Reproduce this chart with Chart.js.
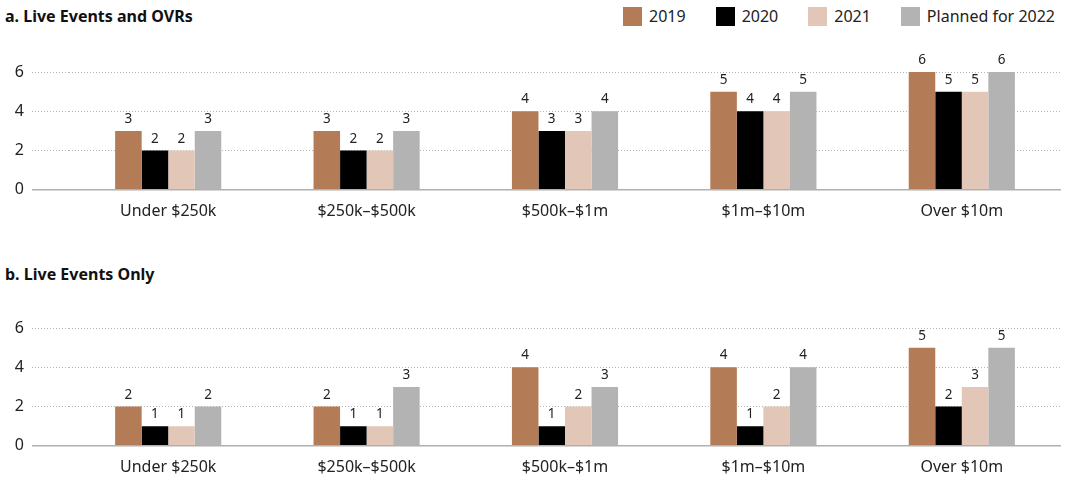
<!DOCTYPE html>
<html>
<head>
<meta charset="utf-8">
<script src="https://cdn.jsdelivr.net/npm/chart.js@4"></script>
<style>
  body { margin: 0; background: #fff; font-family: "Noto Sans", sans-serif; color: #222; overflow: hidden; }
  .wrap { position: relative; width: 1066px; height: 479px; overflow: hidden; }
  .panel { position: absolute; left: 0; width: 1066px; height: 233px; }
  .title { position: absolute; left: 5px; font-weight: bold; font-size: 16px; color: #111; }
  .legend { position: absolute; top: 6px; right: 11px; display: flex; font-size: 16px; line-height: 20px; }
  .legend span.item { display: flex; align-items: center; margin-left: 30px; }
  .legend span.box { width: 19px; height: 19px; margin-right: 7px; display: inline-block; }
</style>
</head>
<body>
<div class="wrap">
  <div class="title" style="top:5px">a. Live Events and OVRs</div>
  <div class="legend" id="legend"></div>
  <div class="panel" style="top:0"><canvas id="chartA"></canvas></div>
  <div class="title" style="top:263px">b. Live Events Only</div>
  <div class="panel" style="top:256px"><canvas id="chartB"></canvas></div>
</div>
<script>
// Data
const categories = ['Under $250k', '$250k–$500k', '$500k–$1m', '$1m–$10m', 'Over $10m'];
const seriesNames = ['2019', '2020', '2021', 'Planned for 2022'];
const seriesColors = ['#b37b56', '#000000', '#e2c7b9', '#b3b3b3'];

// a. Live Events and OVRs
const a2019 = [3, 3, 4, 5, 6];
const a2020 = [2, 2, 3, 4, 5];
const a2021 = [2, 2, 3, 4, 5];
const a2022 = [3, 3, 4, 5, 6];

// b. Live Events Only
const b2019 = [2, 2, 4, 4, 5];
const b2020 = [1, 1, 1, 1, 2];
const b2021 = [1, 1, 2, 2, 3];
const b2022 = [2, 3, 3, 4, 5];

const yTicks = [0, 2, 4, 6];

// HTML legend
const legendEl = document.getElementById('legend');
seriesNames.forEach((name, i) => {
  const item = document.createElement('span');
  item.className = 'item';
  item.innerHTML = '<span class="box" style="background:' + seriesColors[i] + '"></span>' + name;
  legendEl.appendChild(item);
});

// value labels above bars
const barLabels = {
  id: 'barLabels',
  afterDatasetsDraw(chart) {
    const ctx = chart.ctx;
    ctx.save();
    ctx.font = '13.5px "Noto Sans"';
    ctx.fillStyle = '#222';
    ctx.textAlign = 'center';
    ctx.textBaseline = 'bottom';
    chart.data.datasets.forEach((ds, i) => {
      chart.getDatasetMeta(i).data.forEach((bar, j) => {
        ctx.fillText(ds.data[j], bar.x, bar.y - 5);
      });
    });
    ctx.restore();
  }
};

function makeChart(id, values) {
  return new Chart(document.getElementById(id), {
    type: 'bar',
    data: {
      labels: categories,
      datasets: values.map((v, i) => ({
        label: seriesNames[i],
        data: v,
        backgroundColor: seriesColors[i],
        barPercentage: 1,
        categoryPercentage: 0.535
      }))
    },
    options: {
      responsive: true,
      maintainAspectRatio: false,
      animation: false,
      layout: { padding: { top: 72, right: 5, bottom: 0, left: 0 } },
      plugins: { legend: { display: false }, tooltip: { enabled: false } },
      scales: {
        x: {
          grid: { display: false, drawTicks: false },
          border: { display: false },
          ticks: { color: '#222', padding: 12, font: { family: 'Noto Sans', size: 16 } }
        },
        y: {
          min: 0,
          max: 6,
          afterBuildTicks: (axis) => { axis.ticks = yTicks.map(v => ({ value: v })); },
          afterFit: (axis) => { axis.width = 69; },
          grid: {
            color: (c) => c.tick.value === 0 ? '#b0b0b0' : '#b5b5b5',
            lineWidth: (c) => c.tick.value === 0 ? 1.5 : 1,
            tickColor: (c) => c.tick.value === 0 ? '#b0b0b0' : '#b5b5b5',
            tickLength: 37,
            tickBorderDash: (c) => c.tick.value === 0 ? [] : [1, 2]
          },
          border: { display: false, dash: (c) => c.tick.value === 0 ? [] : [1, 2] },
          ticks: { color: '#222', padding: 8, font: { family: 'Noto Sans', size: 16 } }
        }
      }
    },
    plugins: [barLabels]
  });
}

makeChart('chartA', [a2019, a2020, a2021, a2022]);
makeChart('chartB', [b2019, b2020, b2021, b2022]);
</script>
</body>
</html>
